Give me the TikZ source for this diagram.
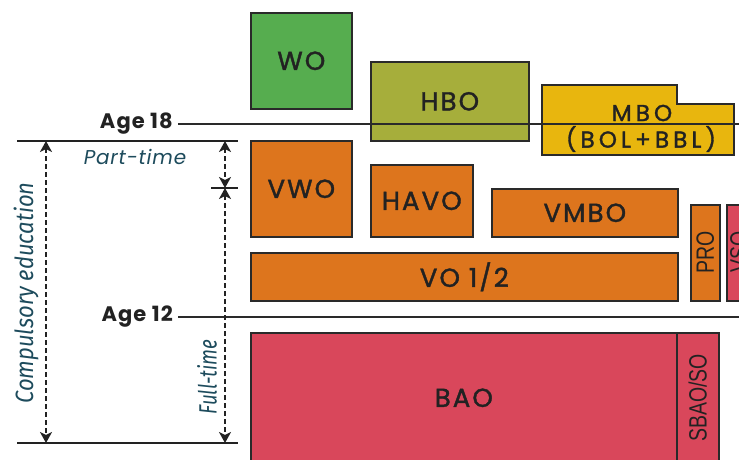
\documentclass[tikz,border=0pt]{standalone}
\usepackage{fontspec}
\usetikzlibrary{arrows.meta}
\setmainfont{Poppins}
\newfontfamily\labfont[LetterSpace=8,FakeBold=1.5]{Poppins}
\newfontfamily\mbofont[LetterSpace=18,FakeBold=1.5]{Poppins}
\newfontfamily\agefont[LetterSpace=5]{Poppins}
\newfontfamily\notefont[LetterSpace=4]{Poppins}
\newfontfamily\narrowit[FakeStretch=0.88]{Fira Sans}
\newfontfamily\narrowerit[FakeStretch=0.75]{Fira Sans}
\newfontfamily\condfont[FakeStretch=0.78]{Liberation Sans}
\definecolor{edge}{HTML}{2A2A2A}
\definecolor{ink}{HTML}{222222}
\definecolor{teal}{HTML}{1D4B5C}
\definecolor{cwo}{HTML}{56AD4F}
\definecolor{chbo}{HTML}{A6AE3B}
\definecolor{cmbo}{HTML}{E8B60E}
\definecolor{corange}{HTML}{DD751D}
\definecolor{cred}{HTML}{D9475B}
\tikzset{
  box/.style={draw=edge, line width=1.6pt, anchor=north west, inner sep=0pt,
    text=ink, font=\labfont\fontsize{26}{26}\selectfont},
  vbox/.style={draw=edge, line width=1.6pt, anchor=north west, inner sep=0pt},
  vlabel/.style={text=ink, rotate=90, inner sep=0pt,
    font=\condfont\fontsize{25}{25}\selectfont},
  mbolabel/.style={text=ink, inner sep=0pt, font=\mbofont\fontsize{23}{23}\selectfont},
  agelabel/.style={anchor=east, inner sep=0pt, text=ink,
    font=\agefont\bfseries\fontsize{21}{21}\selectfont},
  ageline/.style={draw=edge, line width=1.2pt},
  rule/.style={draw=ink, line width=1.3pt},
  span/.style={draw=ink, line width=1.9pt, dash pattern=on 5pt off 3pt,
    {Stealth[length=11pt,width=12pt,inset=3pt]}-{Stealth[length=11pt,width=12pt,inset=3pt]}},
  note/.style={text=teal, inner sep=0pt, font=\notefont\itshape\fontsize{20}{20}\selectfont},
  vnote/.style={text=teal, inner sep=0pt, rotate=90,
    font=\narrowit\itshape\fontsize{25}{25}\selectfont},
  vnoteb/.style={text=teal, inner sep=0pt, rotate=90,
    font=\narrowerit\itshape\fontsize{25}{25}\selectfont},
}
\begin{document}
\begin{tikzpicture}[x=1pt,y=-1pt]
\useasboundingbox (0,0) rectangle (739,459);
\clip (0,0) rectangle (739,459);

% higher education
\node[box, fill=cwo, minimum width=101pt, minimum height=96pt] (wo) at (250,12) {WO};
\node[box, fill=chbo, minimum width=158pt, minimum height=79pt] (hbo) at (370,61) {HBO};
\path[fill=cmbo, draw=edge, line width=1.6pt]
  (542,155) -- (542,85) -- (677,85) -- (677,104) -- (734,104) -- (734,155) -- cycle;
\draw[draw=edge, line width=1.6pt] (542,124) -- (734,124);
\node[mbolabel] (mbo) at (642,113) {MBO};
\node[mbolabel] (bolbbl) at (641,139) {(BOL+BBL)};

% secondary education
\node[box, fill=corange, minimum width=101pt, minimum height=96pt] (vwo) at (250,140) {VWO};
\node[box, fill=corange, minimum width=102pt, minimum height=72pt] (havo) at (370,164) {HAVO};
\node[box, fill=corange, minimum width=186pt, minimum height=48pt] (vmbo) at (491,188) {VMBO};
\node[box, fill=corange, minimum width=427pt, minimum height=48pt] (vo) at (250,252) {VO 1/2};
\node[vbox, fill=corange, minimum width=29pt, minimum height=96pt] (pro) at (690,204) {};
\node[vlabel] at (pro.center) {PRO};
\node[vbox, fill=cred, minimum width=28pt, minimum height=96pt] (vso) at (726,204) {};
\node[vlabel] at (739,252) {VSO};

% primary education
\node[box, fill=cred, minimum width=426pt, minimum height=130pt] (bao) at (250,332) {BAO};
\node[vbox, fill=cred, minimum width=42pt, minimum height=130pt] (sbao) at (676,332) {};
\node[vlabel] at (sbao.center) {SBAO/SO};

% age lines
\coordinate (a18s) at (178,124);
\coordinate (a18e) at (739,124);
\coordinate (a12s) at (178,317);
\coordinate (a12e) at (739,317);
\draw[ageline] (a18s) -- (a18e);
\draw[ageline] (a12s) -- (a12e);
\node[agelabel] (age18) at (173,124) {Age 18};
\node[agelabel] (age12) at (173,317) {Age 12};

% compulsory education spans
\coordinate (topL) at (17,141);
\coordinate (topR) at (238,141);
\coordinate (midL) at (211,188);
\coordinate (midR) at (238,188);
\coordinate (botL) at (17,443);
\coordinate (botR) at (238,443);
\draw[rule] (topL) -- (topR);
\draw[rule] (midL) -- (midR);
\draw[rule] (botL) -- (botR);
\coordinate (c1) at (46,141);
\coordinate (c2) at (46,443);
\coordinate (p1) at (225,141);
\coordinate (p2) at (225,188);
\coordinate (p3) at (225,443);
\draw[span] (c1) -- (c2);
\draw[span] (p1) -- (p2);
\draw[span] (p2) -- (p3);
\node[note] (parttime) at (135,157) {Part-time};
\node[vnote] (compulsory) at (26,293) {Compulsory education};
\node[vnoteb] (fulltime) at (207,377) {Full-time};
\end{tikzpicture}
\end{document}
